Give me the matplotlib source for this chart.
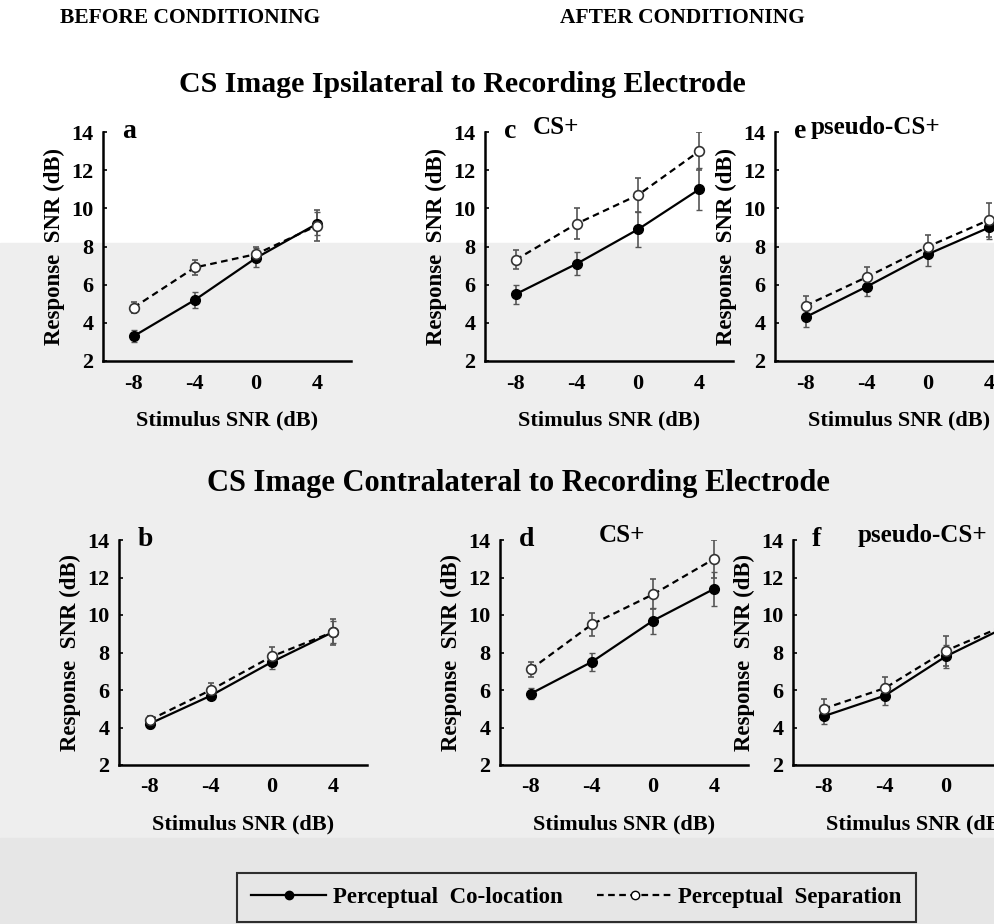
"""
Response SNR vs stimulus SNR, before/after conditioning,
CS image ipsilateral (top row) and contralateral (bottom row).
"""
import matplotlib
matplotlib.use("Agg")
import matplotlib.pyplot as plt
from matplotlib.lines import Line2D
from matplotlib.patches import Rectangle

plt.rcParams["font.family"] = ["Liberation Serif", "DejaVu Serif"]
plt.rcParams["font.weight"] = "bold"
plt.rcParams["axes.unicode_minus"] = False

W, H = 995, 924

# ── data ───────────────────────────────────────────────────────────────────
SNR = [-8, -4, 0, 4]
Y_TICKS = [2, 4, 6, 8, 10, 12, 14]
X_TICKS = [-8, -4, 0, 4]

# ipsilateral
A_COLOC = [3.3, 5.2, 7.4, 9.2]
A_COLOC_ERR = [0.3, 0.4, 0.5, 0.6]
A_SEP = [4.8, 6.9, 7.6, 9.1]
A_SEP_ERR = [0.3, 0.4, 0.4, 0.8]

C_COLOC = [5.5, 7.1, 8.9, 11.0]
C_COLOC_ERR = [0.5, 0.6, 0.9, 1.1]
C_SEP = [7.3, 9.2, 10.7, 13.0]
C_SEP_ERR = [0.5, 0.8, 0.9, 1.0]

E_COLOC = [4.3, 5.9, 7.6, 9.0]
E_COLOC_ERR = [0.5, 0.5, 0.6, 0.6]
E_SEP = [4.9, 6.4, 8.0, 9.4]
E_SEP_ERR = [0.5, 0.5, 0.6, 0.9]

# contralateral
B_COLOC = [4.2, 5.7, 7.5, 9.1]
B_COLOC_ERR = [0.2, 0.2, 0.4, 0.6]
B_SEP = [4.4, 6.0, 7.8, 9.1]
B_SEP_ERR = [0.2, 0.4, 0.5, 0.7]

D_COLOC = [5.8, 7.5, 9.7, 11.4]
D_COLOC_ERR = [0.3, 0.5, 0.7, 0.9]
D_SEP = [7.1, 9.5, 11.1, 13.0]
D_SEP_ERR = [0.4, 0.6, 0.8, 1.0]

F_COLOC = [4.6, 5.7, 7.8, 9.4]
F_COLOC_ERR = [0.4, 0.5, 0.6, 0.7]
F_SEP = [5.0, 6.1, 8.1, 9.5]
F_SEP_ERR = [0.5, 0.6, 0.8, 0.8]

# letter, subtitle, data, (left px, top px, height px), subtitle x px
PANELS = [
    ("a", "", A_COLOC, A_COLOC_ERR, A_SEP, A_SEP_ERR, (103, 132, 229), None),
    ("c", "CS+", C_COLOC, C_COLOC_ERR, C_SEP, C_SEP_ERR, (485, 132, 229), 556),
    ("e", "pseudo-CS+", E_COLOC, E_COLOC_ERR, E_SEP, E_SEP_ERR, (775, 132, 229), 875),
    ("b", "", B_COLOC, B_COLOC_ERR, B_SEP, B_SEP_ERR, (119, 540, 225), None),
    ("d", "CS+", D_COLOC, D_COLOC_ERR, D_SEP, D_SEP_ERR, (500, 540, 225), 622),
    ("f", "pseudo-CS+", F_COLOC, F_COLOC_ERR, F_SEP, F_SEP_ERR, (793, 540, 225), 922),
]
AX_WIDTH = 248  # px, for xlim (-10, 6.2)


def px_box(left, top, width, height):
    return [left / W, 1 - (top + height) / H, width / W, height / H]


def main():
    fig = plt.figure(figsize=(W / 100, H / 100), dpi=100)

    # grey backdrop as in the scanned figure
    fig.patches.append(Rectangle((0, 1 - 838 / H), 1, (838 - 243) / H,
                                 transform=fig.transFigure, color="#eeeeee", zorder=-10))
    fig.patches.append(Rectangle((0, 0), 1, 1 - 838 / H,
                                 transform=fig.transFigure, color="#e6e6e6", zorder=-10))

    for letter, sub, coloc, coloc_err, sep, sep_err, (left, top, h), sub_x in PANELS:
        ax = fig.add_axes(px_box(left, top, AX_WIDTH, h))
        ax.set_facecolor("none")
        ax.set_zorder(1)

        ax.errorbar(SNR, coloc, yerr=coloc_err, color="black", ecolor="#555555",
                    elinewidth=1.2, capsize=2.5, lw=1.6, marker="o", ms=7,
                    mfc="black", mec="black", zorder=3)
        ax.errorbar(SNR, sep, yerr=sep_err, color="black", ecolor="#555555",
                    elinewidth=1.2, capsize=2.5, lw=1.6, ls=(0, (3, 2)), marker="o",
                    ms=7, mfc="white", mec="#333333", mew=1.2, zorder=3)

        ax.set_xlim(-10, 6.2)
        ax.set_ylim(2, 14)
        ax.set_xticks(X_TICKS)
        ax.set_yticks(Y_TICKS)
        ax.spines[["top", "right"]].set_visible(False)
        for s in ("left", "bottom"):
            ax.spines[s].set_linewidth(1.8)
        ax.tick_params(axis="x", length=0, pad=9, labelsize=16)
        ax.tick_params(axis="y", direction="in", length=3, width=1.2, pad=7, labelsize=16)
        ax.set_xlabel("Stimulus SNR (dB)", fontsize=16, fontweight="bold", labelpad=12)
        ax.set_ylabel("Response  SNR (dB)", fontsize=16.5, fontweight="bold", labelpad=4)

        ax.text(19 / AX_WIDTH, 1.0, letter, transform=ax.transAxes, fontsize=20,
                fontweight="bold", ha="left", va="center")
        if sub:
            ax.text((sub_x - left) / AX_WIDTH, 1.02, sub, transform=ax.transAxes,
                    fontsize=18, fontweight="bold", ha="center", va="center")

    fig.text(60 / W, 1 - 18 / H, "BEFORE CONDITIONING", fontsize=15.5,
             fontweight="bold", ha="left", va="center")
    fig.text(682 / W, 1 - 18 / H, "AFTER CONDITIONING", fontsize=15.5,
             fontweight="bold", ha="center", va="center")
    fig.text(462 / W, 1 - 85 / H, "CS Image Ipsilateral to Recording Electrode",
             fontsize=21.5, fontweight="bold", ha="center", va="center")
    fig.text(518 / W, 1 - 483 / H, "CS Image Contralateral to Recording Electrode",
             fontsize=22, fontweight="bold", ha="center", va="center")

    handles = [
        Line2D([], [], color="black", lw=1.6, marker="o", ms=6, mfc="black"),
        Line2D([], [], color="black", lw=1.6, ls=(0, (3, 2)), marker="o", ms=6,
               mfc="white"),
    ]
    leg = fig.legend(handles, ["Perceptual  Co-location", "Perceptual  Separation"],
                     loc="upper left", bbox_to_anchor=(237 / W, 1 - 873 / H),
                     borderaxespad=0, ncol=2, frameon=True, fancybox=False,
                     handlelength=3.3, columnspacing=1.5, handletextpad=0.27,
                     borderpad=0.6, prop={"size": 16.5, "weight": "bold"})
    leg.get_frame().set_edgecolor("black")
    leg.get_frame().set_linewidth(1.5)
    leg.get_frame().set_facecolor("#e6e6e6")

    fig.savefig("out.png", dpi=100)
    plt.close(fig)


if __name__ == "__main__":
    main()
